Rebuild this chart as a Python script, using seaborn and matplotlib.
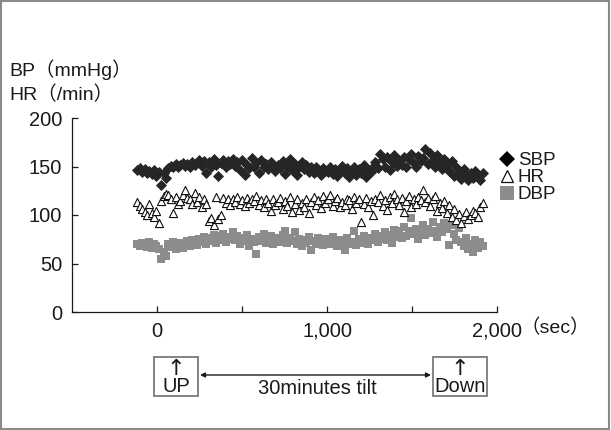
import matplotlib
matplotlib.use("Agg")
import matplotlib.pyplot as plt
from matplotlib.patches import Rectangle
from matplotlib.lines import Line2D
import seaborn as sns
import pandas as pd

# ---------------- data ----------------
time_sec = [
    -115, -101, -87, -73, -59, -45, -31, -17, -3, 11,
    25, 39, 53, 67, 81, 95, 109, 123, 137, 151,
    165, 179, 193, 207, 221, 235, 249, 263, 277, 291,
    305, 319, 333, 347, 361, 375, 389, 403, 417, 431,
    445, 459, 473, 487, 501, 515, 529, 543, 557, 571,
    585, 599, 613, 627, 641, 655, 669, 683, 697, 711,
    725, 739, 753, 767, 781, 795, 809, 823, 837, 851,
    865, 879, 893, 907, 921, 935, 949, 963, 977, 991,
    1005, 1019, 1033, 1047, 1061, 1075, 1089, 1103, 1117, 1131,
    1145, 1159, 1173, 1187, 1201, 1215, 1229, 1243, 1257, 1271,
    1285, 1299, 1313, 1327, 1341, 1355, 1369, 1383, 1397, 1411,
    1425, 1439, 1453, 1467, 1481, 1495, 1509, 1523, 1537, 1551,
    1565, 1579, 1593, 1607, 1621, 1635, 1649, 1663, 1677, 1691,
    1705, 1719, 1733, 1747, 1761, 1775, 1789, 1803, 1817, 1831,
    1845, 1859, 1873, 1887, 1901, 1915,
]

sbp = [
    146, 148, 144, 147, 143, 145, 142, 146, 140, 144,
    131, 143, 138, 148, 151, 149, 153, 150, 152, 154,
    151, 153, 150, 155, 152, 154, 157, 151, 156, 143,
    155, 150, 158, 152, 140, 154, 157, 149, 156, 153,
    158, 151, 155, 146, 157, 141, 152, 148, 159, 150,
    154, 143, 157, 149, 153, 147, 155, 151, 145, 152,
    148, 156, 142, 151, 158, 146, 153, 141, 150, 155,
    147, 152, 144, 149, 143, 150, 146, 141, 148, 145,
    144, 149, 142, 147, 140, 146, 151, 143, 148, 139,
    145, 150, 141, 147, 143, 152, 139, 146, 144, 149,
    155, 148, 163, 158, 150, 160, 146, 155, 162, 151,
    157, 152, 160, 149, 158, 163, 154, 150, 161, 156,
    159, 168, 153, 164, 157, 150, 162, 155, 147, 158,
    152, 145, 156, 140, 150, 143, 137, 147, 141, 136,
    143, 138, 145, 140, 136, 143,
]

hr = [
    113, 109, 106, 103, 100, 111, 102, 98, 104, 92,
    114, 120, 122, 121, 117, 102, 119, 111, 114, 121,
    126, 118, 117, 111, 123, 113, 119, 108, 116, 111,
    94, 97, 90, 119, 96, 100, 118, 112, 116, 110,
    117, 113, 119, 111, 115, 109, 118, 112, 116, 114,
    120, 110, 115, 108, 117, 112, 104, 116, 110, 113,
    118, 106, 114, 109, 119, 103, 111, 116, 105, 112,
    108, 117, 102, 113, 119, 110, 115, 107, 120, 112,
    116, 121, 109, 114, 118, 108, 113, 110, 117, 115,
    106, 119, 112, 116, 93, 111, 118, 108, 114, 100,
    117, 113, 121, 109, 115, 105, 119, 112, 122, 116,
    110, 118, 103, 114, 120, 108, 117, 111, 119, 115,
    126, 113, 118, 109, 116, 120, 104, 112, 107, 114,
    102, 110, 98, 106, 95, 101, 92, 99, 103, 96,
    100, 104, 102, 98, 108, 112,
]

dbp = [
    70, 68, 71, 69, 67, 72, 66, 70, 68, 65,
    55, 62, 58, 70, 67, 72, 65, 69, 71, 66,
    70, 73, 68, 74, 71, 69, 75, 72, 77, 70,
    76, 73, 79, 71, 78, 74, 80, 72, 77, 75,
    82, 74, 78, 70, 76, 73, 79, 68, 75, 72,
    60, 77, 73, 80, 71, 75, 78, 70, 74, 76,
    72, 79, 84, 71, 76, 73, 82, 70, 75, 68,
    74, 71, 77, 64, 73, 70, 76, 72, 69, 75,
    73, 70, 77, 72, 68, 74, 71, 64, 76, 70,
    72, 84, 69, 75, 71, 78, 73, 70, 76, 74,
    80, 72, 78, 75, 82, 74, 79, 71, 85, 77,
    83, 76, 88, 78, 84, 97, 80, 86, 75, 82,
    90, 79, 86, 81, 93, 84, 77, 88, 82, 92,
    86, 69, 90, 80, 74, 87, 72, 68, 76, 65,
    70, 62, 74, 66, 72, 68,
]

series_names = ["SBP", "HR", "DBP"]
x_ticks = [0, 500, 1000, 1500, 2000]
x_tick_labels = ["0", "", "1,000", "", "2,000"]
y_ticks = [0, 50, 100, 150, 200]

df = pd.DataFrame({"t": time_sec, "SBP": sbp, "HR": hr, "DBP": dbp})

# ---------------- style ----------------
sns.set_theme(style="white")
FONT = ["Liberation Sans", "Noto Sans CJK JP", "DejaVu Sans"]
plt.rcParams["font.family"] = FONT
plt.rcParams["text.color"] = "#1a1a1a"

W, H = 611, 430
fig = plt.figure(figsize=(W / 100, H / 100), dpi=100)


def fx(px):
    return px / W


def fy(py):
    return 1 - py / H


ax = fig.add_axes([fx(72), fy(312), (497 - 72) / W, (312 - 118) / H])

sns.scatterplot(data=df, x="t", y="SBP", marker="D", s=32, color="#262626",
                linewidth=0, ax=ax, label="SBP", zorder=3)
sns.scatterplot(data=df, x="t", y="HR", marker="^", s=34, facecolor="white",
                edgecolor="#111111", linewidth=0.8, ax=ax, label="HR", zorder=4)
sns.scatterplot(data=df, x="t", y="DBP", marker="s", s=32, color="#8c8c8c",
                linewidth=0, ax=ax, label="DBP", zorder=2)

ax.set_xlim(-500, 2000)
ax.set_ylim(0, 200)
ax.set_xticks(x_ticks)
ax.set_xticklabels(x_tick_labels)
ax.set_yticks(y_ticks)
ax.set_xlabel("")
ax.set_ylabel("")
ax.tick_params(direction="in", length=4, width=0.9, colors="#1a1a1a",
               labelsize=14.5, pad=7)
ax.tick_params(axis="x", bottom=True)
ax.tick_params(axis="y", left=True)
for side in ["top", "right"]:
    ax.spines[side].set_visible(False)
for side in ["left", "bottom"]:
    ax.spines[side].set_color("#1a1a1a")
    ax.spines[side].set_linewidth(0.9)

# legend
handles = [
    Line2D([], [], marker="D", linestyle="none", markersize=8,
           markerfacecolor="#000000", markeredgewidth=0),
    Line2D([], [], marker="^", linestyle="none", markersize=9,
           markerfacecolor="white", markeredgecolor="#111111", markeredgewidth=0.9),
    Line2D([], [], marker="s", linestyle="none", markersize=10,
           markerfacecolor="#8c8c8c", markeredgewidth=0),
]
ax.legend(handles, series_names, loc="upper left",
          bbox_to_anchor=(fx(499), fy(152)), bbox_transform=fig.transFigure,
          frameon=False, handletextpad=0.1, labelspacing=0.0,
          borderpad=0, borderaxespad=0, handlelength=0.9, fontsize=13.5)

# axis titles
fig.text(fx(9), fy(70), "BP（mmHg）", fontsize=14, va="center", ha="left")
fig.text(fx(9), fy(95), "HR（/min）", fontsize=14, va="center", ha="left")
fig.text(fx(520), fy(328), "（sec）", fontsize=14, va="center", ha="left")

# bottom annotation boxes
box_kw = dict(fill=False, edgecolor="#7a7a7a", linewidth=1.3,
              transform=fig.transFigure)
fig.patches.append(Rectangle((fx(154), fy(396)), (198 - 154) / W, (396 - 357) / H, **box_kw))
fig.patches.append(Rectangle((fx(433), fy(396)), (487 - 433) / W, (396 - 357) / H, **box_kw))
fig.text(fx(176), fy(369), "↑", fontsize=16, ha="center", va="center",
         family=["DejaVu Sans"])
fig.text(fx(176), fy(387), "UP", fontsize=14.5, ha="center", va="center")
fig.text(fx(460), fy(369), "↑", fontsize=16, ha="center", va="center",
         family=["DejaVu Sans"])
fig.text(fx(460), fy(387), "Down", fontsize=14.5, ha="center", va="center")
fig.text(fx(317), fy(388), "30minutes tilt", fontsize=14.5, ha="center", va="center")
ax.annotate("", xy=(fx(431), fy(375)), xytext=(fx(200), fy(375)),
            xycoords="figure fraction", textcoords="figure fraction",
            arrowprops=dict(arrowstyle="<|-|>", color="#1a1a1a", lw=1.0,
                            mutation_scale=7, shrinkA=0, shrinkB=0))

# outer frame
fig.patches.append(Rectangle((0.002, 0.003), 0.995, 0.994, fill=False,
                             edgecolor="#8a8a8a", linewidth=1.5,
                             transform=fig.transFigure))

fig.savefig("out.png", dpi=100)
